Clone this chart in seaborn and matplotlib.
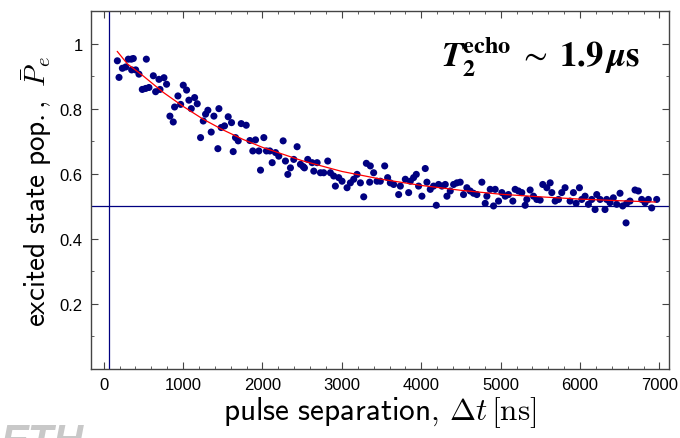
import matplotlib
matplotlib.use("Agg")
import matplotlib.pyplot as plt
from matplotlib.ticker import MultipleLocator
import seaborn as sns
import pandas as pd

# ---- data ----
t_ns = [172, 193, 235, 277, 310, 348, 373, 352, 403, 444, 486, 537, 528, 570, 625, 654,
        696, 709, 759, 792, 834, 876, 893, 935, 969, 1002, 1044, 1073, 1103, 1145, 1178,
        1220, 1254, 1283, 1312, 1354, 1388, 1438, 1451, 1480, 1522, 1568, 1610, 1631,
        1660, 1694, 1732, 1795, 1841, 1878, 1912, 1954, 1975, 2017, 2050, 2092, 2122,
        2164, 2205, 2260, 2289, 2319, 2352, 2394, 2436, 2478, 2512, 2528, 2570, 2625,
        2646, 2688, 2730, 2771, 2822, 2855, 2897, 2918, 2960,
        3002, 3065, 3107, 3149, 3191, 3233, 3275, 3308, 3358, 3350, 3400, 3442, 3484,
        3539, 3576, 3610, 3652, 3715, 3736, 3799, 3841, 3862, 3903, 3937, 3966, 4008,
        4050, 4071, 4113, 4155, 4189, 4218, 4260, 4302, 4323, 4365, 4407, 4449, 4490,
        4532, 4574, 4616, 4658, 4700, 4763, 4805, 4826, 4868, 4910, 4931, 4973, 5015,
        5057, 5098, 5153, 5182, 5224, 5266, 5308, 5329, 5371, 5413, 5455, 5497, 5530,
        5581, 5623, 5644, 5686, 5728, 5769, 5811, 5874, 5916, 5950, 5992, 6021, 6063,
        6105, 6147, 6189, 6210, 6252, 6314, 6335, 6377, 6419, 6461, 6503, 6537, 6579,
        6587, 6629, 6692, 6734, 6776, 6818, 6860, 6902, 6965]
p_exc = [0.947, 0.896, 0.924, 0.928, 0.952, 0.952, 0.954, 0.919, 0.919, 0.906, 0.859, 0.952,
         0.862, 0.865, 0.901, 0.852, 0.890, 0.859, 0.895, 0.875, 0.777, 0.759, 0.805, 0.839,
         0.813, 0.872, 0.857, 0.826, 0.800, 0.834, 0.815, 0.711, 0.762, 0.783, 0.795, 0.728,
         0.777, 0.677, 0.800, 0.742, 0.747, 0.775, 0.757, 0.668, 0.711, 0.701, 0.754, 0.749,
         0.702, 0.670, 0.704, 0.670, 0.611, 0.711, 0.670, 0.670, 0.634, 0.665, 0.654, 0.701,
         0.639, 0.598, 0.618, 0.644, 0.683, 0.629, 0.622, 0.618, 0.644, 0.634, 0.608, 0.634,
         0.603, 0.603, 0.639, 0.603, 0.593, 0.562, 0.588,
         0.577, 0.557, 0.572, 0.583, 0.598, 0.572, 0.529, 0.632, 0.624, 0.574, 0.603, 0.577,
         0.577, 0.624, 0.588, 0.572, 0.567, 0.536, 0.562, 0.583, 0.542, 0.577, 0.588, 0.598,
         0.562, 0.531, 0.616, 0.574, 0.552, 0.562, 0.503, 0.567, 0.562, 0.567, 0.531, 0.547,
         0.567, 0.572, 0.574, 0.536, 0.557, 0.547, 0.540, 0.536, 0.574, 0.509, 0.531, 0.552,
         0.501, 0.552, 0.516, 0.542, 0.531, 0.536, 0.516, 0.552, 0.547, 0.542, 0.503, 0.521,
         0.550, 0.531, 0.521, 0.519, 0.567, 0.557, 0.572, 0.542, 0.516, 0.521, 0.542, 0.557,
         0.516, 0.542, 0.509, 0.557, 0.521, 0.531, 0.506, 0.521, 0.490, 0.536, 0.521, 0.490,
         0.521, 0.511, 0.526, 0.506, 0.540, 0.501, 0.449, 0.509, 0.516, 0.550, 0.547, 0.521,
         0.511, 0.521, 0.495, 0.521]

fit_t = [170, 300, 500, 750, 1000, 1250, 1500, 1750, 2000, 2500, 3000, 3500, 4000, 4500,
         5000, 5500, 6000, 6500, 6950]
fit_p = [0.976, 0.937, 0.900, 0.850, 0.807, 0.768, 0.735, 0.706, 0.681, 0.640, 0.607,
         0.583, 0.564, 0.549, 0.537, 0.529, 0.522, 0.517, 0.513]

x_ticks = [0, 1000, 2000, 3000, 4000, 5000, 6000, 7000]
y_ticks = [0.2, 0.4, 0.6, 0.8, 1.0]
y_tick_labels = ["0.2", "0.4", "0.6", "0.8", "1"]
baseline = 0.5
t_start = 70

sns.set_theme(style="ticks")
plt.rcParams["font.family"] = ["Liberation Sans", "DejaVu Sans"]
plt.rcParams["mathtext.fontset"] = "cm"
plt.rcParams["text.color"] = "black"
plt.rcParams["axes.labelcolor"] = "black"

df = pd.DataFrame({"t": t_ns, "p": p_exc})
fit = pd.DataFrame({"t": fit_t, "p": fit_p})

fig = plt.figure(figsize=(6.8, 4.39), dpi=100)
ax = fig.add_axes([91 / 680, 1 - 370 / 439, (669 - 91) / 680, (370 - 12) / 439])

ax.axhline(baseline, color="#000080", lw=0.9, zorder=1)
ax.axvline(t_start, color="#000080", lw=0.9, zorder=1)

sns.scatterplot(data=df, x="t", y="p", ax=ax, color="#000080", s=26,
                edgecolor="none", zorder=3, legend=False)
sns.lineplot(data=fit, x="t", y="p", ax=ax, color="red", lw=0.9, zorder=4,
             legend=False)

ax.set_xlim(-160, 7120)
ax.set_ylim(0, 1.1)
ax.set_xticks(x_ticks)
ax.set_xticklabels([str(v) for v in x_ticks])
ax.set_yticks(y_ticks)
ax.set_yticklabels(y_tick_labels)
ax.xaxis.set_minor_locator(MultipleLocator(200))
ax.yaxis.set_minor_locator(MultipleLocator(0.1))

for side in ["left", "right", "top", "bottom"]:
    ax.spines[side].set_visible(True)
    ax.spines[side].set_color("#444444")
    ax.spines[side].set_linewidth(1.0)

ax.tick_params(which="both", direction="in", top=True, right=True, color="#444444",
               labelsize=12, labelcolor="black")
ax.tick_params(which="major", length=5, width=0.8, pad=6)
ax.tick_params(which="minor", length=2.5, width=0.6)

ax.set_xlabel(r"$\mathsf{pulse\ separation,}\,\Delta t\,[\mathrm{ns}]$", fontsize=22.5,
              labelpad=1)
ax.set_ylabel(r"$\mathsf{excited\ state\ pop.,}\ \bar{P}_e$", fontsize=21, labelpad=4)

ax.text(0.95, 0.874,
        r"$\boldsymbol{T}_{\mathbf{2}}^{\mathbf{echo}}\;\sim\;\mathbf{1.9}\,\boldsymbol{\mu}\mathbf{s}$",
        transform=ax.transAxes, ha="right", va="center", fontsize=25,
        math_fontfamily="stix")

fig.text(0.0, 0.036, "ETH", fontsize=30, color="#c8c8c8", fontweight="bold",
         style="italic", ha="left", va="top")

fig.savefig("out.png", dpi=100)
